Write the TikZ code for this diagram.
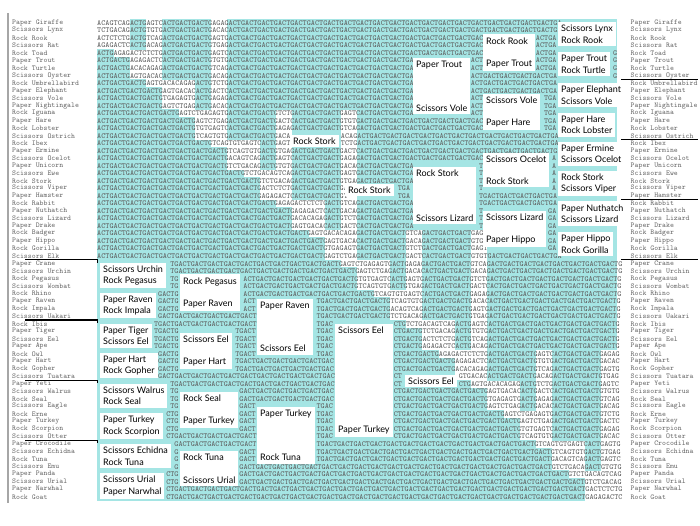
\documentclass[tikz,border=0pt]{standalone}
\usepackage{fontspec}
\newfontfamily\boxfont{Lato}
\definecolor{cy}{RGB}{165,229,228}
\definecolor{dnagray}{RGB}{95,95,95}
\definecolor{nmgray}{RGB}{105,105,105}
\pgfdeclarelayer{bg}
\pgfsetlayers{bg,main}
\tikzset{
  dnatxt/.style={anchor=west, inner sep=0pt, font=\fontsize{7.74}{8}\ttfamily, text=dnagray},
  nm/.style={anchor=west, inner sep=0pt, font=\fontsize{7.4}{8}\ttfamily, text=nmgray},
  bx/.style={fill=white, inner xsep=3pt, inner ysep=3pt, align=left, font=\fontsize{9}{11.5}\boxfont, text=black},
  sep/.style={black, line width=1.2pt},
}
% ---------- DNA machinery ----------
\newcount\dnar \newcount\dnau \newcount\dnaci \newcount\dnab
\newcount\dnamf \newcount\dname \newcount\dnatmp \newcount\dnatmpb
\newif\ifdnafirst \newif\ifdnawhite \newif\ifdnacov
\newdimen\dnacx \newdimen\dnacy
\newdimen\bxA \newdimen\bxB \newdimen\byA \newdimen\byB
\expandafter\def\csname dnaW0\endcsname{ACAG}
\expandafter\def\csname dnaW1\endcsname{AGAG}
\expandafter\def\csname dnaW2\endcsname{TGAG}
\expandafter\def\csname dnaW3\endcsname{TCAG}
\expandafter\def\csname dnaW4\endcsname{ACTC}
\expandafter\def\csname dnaW5\endcsname{AGTG}
\expandafter\def\csname dnaW6\endcsname{TGTG}
\expandafter\def\csname dnaW7\endcsname{TCTG}
\expandafter\def\csname dnaW8\endcsname{ACAC}
\expandafter\def\csname dnaW9\endcsname{AGTC}
\gdef\boxrects{}
\def\dnachk#1#2#3#4{%
  \ifdim\dnacx>\dimexpr#1-2pt\relax
    \ifdim\dnacx<\dimexpr#2+2pt\relax
      \ifdim\dnacy>\dimexpr#3-1.5pt\relax
        \ifdim\dnacy<\dimexpr#4+1.5pt\relax
          \global\dnacovtrue
        \fi
      \fi
    \fi
  \fi}
\def\dnaemit{\node[dnatxt] (D\the\dnar-\the\dnaci) at (\dnarunx,\dnayc) {\dnarun};\gdef\dnarun{}}
\def\dnaflush{\ifx\dnarun\empty\else\dnaemit\fi}
\def\dnachar#1{%
  \global\advance\dnaci by 1
  \global\dnacx=\dimexpr 97pt + 4.0625pt*\dnaci - 2.03125pt\relax
  \global\dnacovfalse
  \boxrects
  \ifdnacov
    \dnaflush
  \else
    \ifx\dnarun\empty\pgfmathsetmacro\dnarunx{97+(\dnaci-1)*4.0625}\global\let\dnarunx\dnarunx\fi
    \xdef\dnarun{\dnarun#1}%
  \fi}
\def\dnacharloop#1{\ifx\relax#1\else\dnachar#1\expandafter\dnacharloop\fi}
\def\dnacell{%
  \dnawhitefalse
  \ifnum\dnau=\numexpr2*\dnab+1\relax \dnawhitetrue\fi
  \ifnum\dnau=\numexpr2*\dnab+2\relax \dnawhitetrue\fi
  \ifdnafirst\ifnum\dnau=\numexpr2*\dnab\relax \dnawhitetrue\fi\fi
  \ifnum\dnau=\dnamf \dnawhitetrue\fi
  \ifnum\dnau=\dname \dnawhitetrue\fi
  \ifdnawhite
    \dnatmp=\numexpr\dnar*7+\dnau*3\relax
    \dnatmpb=\dnatmp \divide\dnatmpb by 10
    \dnatmp=\numexpr\dnatmp-10*\dnatmpb\relax
    \edef\dnalet{\csname dnaW\the\dnatmp\endcsname}%
  \else
    \def\dnalet{ACTG}%
    \pgfmathsetmacro\xa{97+(\dnau-1)*16.25}\pgfmathsetmacro\xb{\xa+16.55}%
    \fill[cy] (\xa,\dnayt) rectangle (\xb,\dnayb);%
  \fi
  \expandafter\dnacharloop\dnalet\relax}
\def\dnaunitloop{\ifnum\dnau<32 \global\advance\dnau by 1 \dnacell\expandafter\dnaunitloop\fi}
\def\dnarow#1{%
  \global\dnar=#1\relax \global\dnau=0 \global\dnaci=0
  \dnab=\numexpr#1-1\relax \divide\dnab by 4
  \dnatmp=\numexpr#1-1-4*\dnab\relax
  \ifnum\dnatmp=0 \dnafirsttrue\else\dnafirstfalse\fi
  \dnamf=\numexpr2*\dnab+6\relax \divide\dnamf by 4 \multiply\dnamf by 4
  \dname=\numexpr2*\dnab+10\relax \divide\dname by 8 \multiply\dname by 8
  \pgfmathsetmacro\dnayt{19.24+(#1-1)*7.52}%
  \pgfmathsetmacro\dnayb{\dnayt+7.82}%
  \pgfmathsetmacro\dnayc{23+(#1-1)*7.52}%
  \global\dnacy=-\dnayc pt
  \gdef\dnarun{}%
  \dnaunitloop
  \dnaflush}
\begin{document}
\begin{tikzpicture}[x=1pt,y=-1pt]
\useasboundingbox (0,0) rectangle (700,525);
% ---------- boxes (main layer) ----------
% top half, round 1
\node[bx,anchor=west] (ta1) at (558,34.3) {Scissors Lynx\\Rock Rook};
\node[bx,anchor=west] (ta2) at (558,64.4) {Paper Trout\\Rock Turtle};
\node[bx,anchor=west] (ta3) at (558,95) {Paper Elephant\\Scissors Vole};
\node[bx,anchor=west] (ta4) at (558,124.6) {Paper Hare\\Rock Lobster};
\node[bx,anchor=west] (ta5) at (558,153.8) {Paper Ermine\\Scissors Ocelot};
\node[bx,anchor=west] (ta6) at (558,183.5) {Rock Stork\\Scissors Viper};
\node[bx,anchor=west] (ta7) at (558,213.5) {Paper Nuthatch\\Scissors Lizard};
\node[bx,anchor=west] (ta8) at (558,244) {Paper Hippo\\Rock Gorilla};
% top half, round 2
\node[bx,anchor=west] (tb1) at (483,52.5) {Rock Rook\\[10.5pt]Paper Trout};
\node[bx,anchor=west] (tb2) at (483,112) {Scissors Vole\\[10.5pt]Paper Hare};
\node[bx,anchor=west] (tb3) at (483,170) {Scissors Ocelot\\[10.5pt]Rock Stork};
\node[bx,anchor=west] (tb4) at (483,229) {Scissors Lizard\\[10.5pt]Paper Hippo};
% top half, round 3
\node[bx,anchor=west] (tc1) at (413,86) {Paper Trout\\[32.5pt]Scissors Vole};
\node[bx,anchor=west] (tc2) at (413,195.5) {Rock Stork\\[33.5pt]Scissors Lizard};
% top half, later rounds
\node[bx,anchor=west] (td1) at (345,190) {Rock Stork};
\node[bx,anchor=west] (te1) at (290,141) {Rock Stork};
% bottom half, round 1
\node[bx,anchor=west] (ba1) at (100,275.5) {Scissors Urchin\\Rock Pegasus};
\node[bx,anchor=west] (ba2) at (100,305.6) {Paper Raven\\Rock Impala};
\node[bx,anchor=west] (ba3) at (100,335.7) {Paper Tiger\\Scissors Eel};
\node[bx,anchor=west] (ba4) at (100,365.7) {Paper Hart\\Rock Gopher};
\node[bx,anchor=west] (ba5) at (100,395.8) {Scissors Walrus\\Rock Seal};
\node[bx,anchor=west] (ba6) at (100,425.9) {Paper Turkey\\Rock Scorpion};
\node[bx,anchor=west] (ba7) at (100,456) {Scissors Echidna\\Rock Tuna};
\node[bx,anchor=west] (ba8) at (100,486) {Scissors Urial\\Paper Narwhal};
% bottom half, round 2
\node[bx,anchor=west] (bb1) at (180,292.5) {Rock Pegasus\\[10.5pt]Paper Raven};
\node[bx,anchor=west] (bb2) at (180,351) {Scissors Eel\\[10.5pt]Paper Hart};
\node[bx,anchor=west] (bb3) at (180,410) {Rock Seal\\[10.5pt]Paper Turkey};
\node[bx,anchor=west] (bb4) at (180,468.5) {Rock Tuna\\[11.5pt]Scissors Urial};
% bottom half, round 3
\node[bx,anchor=west] (bc1) at (257,327) {Paper Raven\\[32pt]Scissors Eel};
\node[bx,anchor=west] (bc2) at (257,435.5) {Paper Turkey\\[32.5pt]Rock Tuna};
% bottom half, later rounds
\node[bx,anchor=west] (bd1) at (335,380.5) {Scissors Eel\\[87.5pt]Paper Turkey};
\node[bx,anchor=west] (be1) at (405,381) {Scissors Eel};
% collect box rectangles
\foreach \b in {ta1,ta2,ta3,ta4,ta5,ta6,ta7,ta8,tb1,tb2,tb3,tb4,tc1,tc2,td1,te1,ba1,ba2,ba3,ba4,ba5,ba6,ba7,ba8,bb1,bb2,bb3,bb4,bc1,bc2,bd1,be1}{%
  \pgfextractx{\bxA}{\pgfpointanchor{\b}{south west}}%
  \pgfextracty{\byA}{\pgfpointanchor{\b}{south west}}%
  \pgfextractx{\bxB}{\pgfpointanchor{\b}{north east}}%
  \pgfextracty{\byB}{\pgfpointanchor{\b}{north east}}%
  \xdef\boxrects{\unexpanded\expandafter{\boxrects}\noexpand\dnachk{\the\bxA}{\the\bxB}{\the\byA}{\the\byB}}}
% ---------- DNA field (background layer) ----------
\begin{pgfonlayer}{bg}
\fill[white] (0,0) rectangle (700,525);
\foreach \r in {1,...,64}{\dnarow{\r}}
\end{pgfonlayer}
% ---------- names ----------
\foreach \n [count=\i] in {Paper Giraffe,Scissors Lynx,Rock Rook,Scissors Rat,Rock Toad,Paper Trout,Rock Turtle,Scissors Oyster,Rock Umbrellabird,Paper Elephant,Scissors Vole,Paper Nightingale,Rock Iguana,Paper Hare,Rock Lobster,Scissors Ostrich,Rock Ibex,Paper Ermine,Scissors Ocelot,Paper Unicorn,Scissors Ewe,Rock Stork,Scissors Viper,Paper Hamster,Rock Rabbit,Paper Nuthatch,Scissors Lizard,Paper Drake,Rock Badger,Paper Hippo,Rock Gorilla,Scissors Elk,Paper Crane,Scissors Urchin,Rock Pegasus,Scissors Wombat,Rock Rhino,Paper Raven,Rock Impala,Scissors Uakari,Rock Ibis,Paper Tiger,Scissors Eel,Paper Ape,Rock Owl,Paper Hart,Rock Gopher,Scissors Tuatara,Paper Yeti,Scissors Walrus,Rock Seal,Scissors Eagle,Rock Erne,Paper Turkey,Rock Scorpion,Scissors Otter,Paper Crocodile,Scissors Echidna,Rock Tuna,Scissors Emu,Paper Panda,Scissors Urial,Paper Narwhal,Rock Goat}{
  \node[nm] (L\i) at (12,{23+(\i-1)*7.52}) {\n};
  \node[nm] (R\i) at (630.5,{23+(\i-1)*7.52}) {\n};
}
% ---------- separators ----------
\draw[gray!70, line width=1.2pt] (8,13) -- (8,503);
\foreach \k in {32,40,48,56}{\draw[sep] (25,{23+(\k-0.5)*7.52}) -- (97.5,{23+(\k-0.5)*7.52}) -- (97.5,{23+(\k-0.5)*7.52+3});}
\foreach \k in {8,16,24,32}{\draw[sep] (621,{23+(\k-0.5)*7.52}) -- (698,{23+(\k-0.5)*7.52});}
\end{tikzpicture}
\end{document}
